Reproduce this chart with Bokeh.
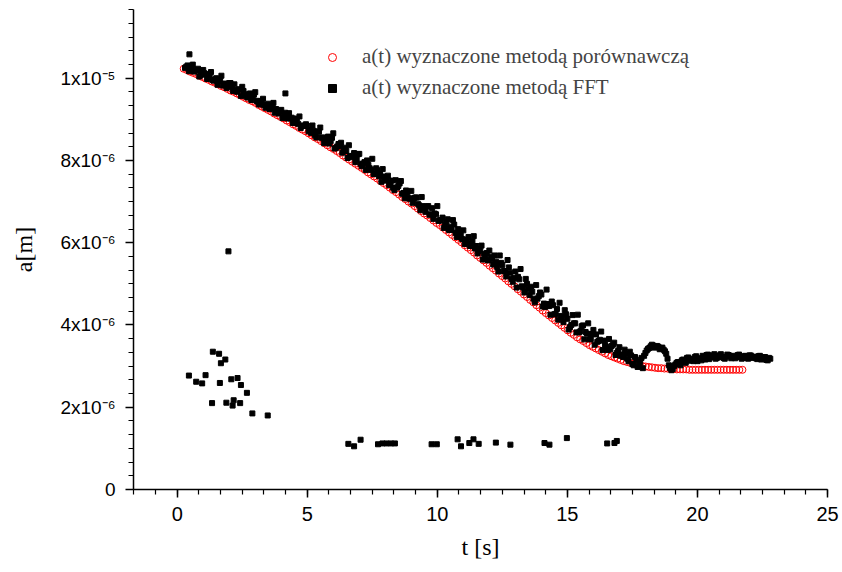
from bokeh.plotting import figure
from bokeh.models import Range1d, FixedTicker, Legend, LegendItem, ColumnDataSource
from bokeh.embed import file_html
from bokeh.resources import INLINE

# a(t) in units of 1e-6 m, t in s
t_cmp = [0.25, 0.37, 0.49, 0.61, 0.73, 0.85, 0.97, 1.09, 1.21, 1.33, 1.45, 1.57, 1.69, 1.81, 1.93,
         2.05, 2.17, 2.29, 2.41, 2.53, 2.65, 2.77, 2.89, 3.01, 3.13, 3.25, 3.37, 3.49, 3.61, 3.73,
         3.85, 3.97, 4.09, 4.21, 4.33, 4.45, 4.57, 4.69, 4.81, 4.93, 5.05, 5.17, 5.29, 5.41, 5.53,
         5.65, 5.77, 5.89, 6.01, 6.13, 6.25, 6.37, 6.49, 6.61, 6.73, 6.85, 6.97, 7.09, 7.21, 7.33,
         7.45, 7.57, 7.69, 7.81, 7.93, 8.05, 8.17, 8.29, 8.41, 8.53, 8.65, 8.77, 8.89, 9.01, 9.13,
         9.25, 9.37, 9.49, 9.61, 9.73, 9.85, 9.97, 10.09, 10.21, 10.33, 10.45, 10.57, 10.69, 10.81, 10.93,
         11.05, 11.17, 11.29, 11.41, 11.53, 11.65, 11.77, 11.89, 12.01, 12.13, 12.25, 12.37, 12.49, 12.61, 12.73,
         12.85, 12.97, 13.09, 13.21, 13.33, 13.45, 13.57, 13.69, 13.81, 13.93, 14.05, 14.17, 14.29, 14.41, 14.53,
         14.65, 14.77, 14.89, 15.01, 15.13, 15.25, 15.37, 15.49, 15.61, 15.73, 15.85, 15.97, 16.09, 16.21, 16.33,
         16.45, 16.57, 16.69, 16.81, 16.93, 17.05, 17.17, 17.29, 17.41, 17.53, 17.65, 17.77, 17.89, 18.01, 18.13,
         18.25, 18.37, 18.49, 18.61, 18.73, 18.85, 18.97, 19.09, 19.21, 19.33, 19.45, 19.57, 19.69, 19.81, 19.93,
         20.05, 20.17, 20.29, 20.41, 20.53, 20.65, 20.77, 20.89, 21.01, 21.13, 21.25, 21.37, 21.49, 21.61, 21.73]
a_cmp = [10.23, 10.20, 10.16, 10.13, 10.10, 10.06, 10.03, 9.99, 9.96, 9.92, 9.89, 9.85, 9.81, 9.78, 9.74,
         9.70, 9.67, 9.63, 9.59, 9.55, 9.51, 9.47, 9.44, 9.40, 9.35, 9.31, 9.27, 9.23, 9.19, 9.14,
         9.10, 9.06, 9.02, 8.97, 8.93, 8.88, 8.84, 8.79, 8.75, 8.71, 8.66, 8.61, 8.56, 8.52, 8.47,
         8.42, 8.37, 8.32, 8.28, 8.23, 8.18, 8.12, 8.07, 8.02, 7.97, 7.92, 7.87, 7.82, 7.77, 7.71,
         7.66, 7.61, 7.56, 7.50, 7.45, 7.40, 7.34, 7.28, 7.23, 7.17, 7.11, 7.06, 7.00, 6.95, 6.89,
         6.83, 6.77, 6.71, 6.66, 6.60, 6.54, 6.48, 6.43, 6.37, 6.31, 6.25, 6.19, 6.13, 6.07, 6.01,
         5.94, 5.88, 5.82, 5.76, 5.69, 5.63, 5.57, 5.51, 5.44, 5.38, 5.32, 5.25, 5.19, 5.13, 5.06,
         5.00, 4.94, 4.87, 4.81, 4.74, 4.68, 4.61, 4.55, 4.48, 4.42, 4.35, 4.29, 4.23, 4.17, 4.11,
         4.05, 3.99, 3.93, 3.87, 3.81, 3.76, 3.70, 3.65, 3.61, 3.56, 3.51, 3.47, 3.43, 3.39, 3.35,
         3.31, 3.27, 3.24, 3.21, 3.18, 3.15, 3.12, 3.10, 3.08, 3.06, 3.04, 3.02, 3.00, 2.99, 2.98,
         2.97, 2.96, 2.95, 2.95, 2.94, 2.94, 2.93, 2.93, 2.92, 2.92, 2.92, 2.92, 2.91, 2.91, 2.91,
         2.91, 2.91, 2.91, 2.91, 2.91, 2.91, 2.91, 2.91, 2.91, 2.91, 2.91, 2.91, 2.91, 2.91, 2.91]

# FFT method, first set of readings
t_fft = [0.3, 0.4, 0.5, 0.6, 0.7, 0.8, 0.9, 1.0, 1.1, 1.2, 1.3, 1.4, 1.5, 1.6, 1.7, 1.8, 1.9, 2.0,
         2.1, 2.2, 2.3, 2.4, 2.5, 2.6, 2.7, 2.8, 2.9, 3.0, 3.1, 3.2, 3.3, 3.4, 3.5, 3.6, 3.7, 3.8,
         3.9, 4.0, 4.1, 4.2, 4.3, 4.4, 4.5, 4.6, 4.7, 4.8, 4.9, 5.0, 5.1, 5.2, 5.3, 5.4, 5.5, 5.6,
         5.7, 5.8, 5.9, 6.0, 6.1, 6.2, 6.3, 6.4, 6.5, 6.6, 6.7, 6.8, 6.9, 7.0, 7.1, 7.2, 7.3, 7.4,
         7.5, 7.6, 7.7, 7.8, 7.9, 8.0, 8.1, 8.2, 8.3, 8.4, 8.5, 8.6, 8.7, 8.8, 8.9, 9.0, 9.1, 9.2,
         9.3, 9.4, 9.5, 9.6, 9.7, 9.8, 9.9, 10.0, 10.1, 10.2, 10.3, 10.4, 10.5, 10.6, 10.7, 10.8, 10.9, 11.0,
         11.1, 11.2, 11.3, 11.4, 11.5, 11.6, 11.7, 11.8, 11.9, 12.0, 12.1, 12.2, 12.3, 12.4, 12.5, 12.6, 12.7, 12.8,
         12.9, 13.0, 13.1, 13.2, 13.3, 13.4, 13.5, 13.6, 13.7, 13.8, 13.9, 14.0, 14.1, 14.2, 14.3, 14.4, 14.5, 14.6,
         14.7, 14.8, 14.9, 15.0, 15.1, 15.2, 15.3, 15.4, 15.5, 15.6, 15.7, 15.8, 15.9, 16.0, 16.1, 16.2, 16.3, 16.4,
         16.5, 16.6, 16.7, 16.8, 16.9, 17.0, 17.1, 17.2, 17.3, 17.4, 17.5, 17.6, 17.7, 17.8, 17.9, 18.0, 18.1, 18.2,
         18.3, 18.4, 18.5, 18.6, 18.7, 18.8, 18.9, 19.0, 19.1, 19.2, 19.3, 19.4, 19.5, 19.6, 19.7, 19.8, 19.9, 20.0,
         20.1, 20.2, 20.3, 20.4, 20.5, 20.6, 20.7, 20.8, 20.9, 21.0, 21.1, 21.2, 21.3, 21.4, 21.5, 21.6, 21.7, 21.8,
         21.9, 22.0, 22.1, 22.2, 22.3, 22.4, 22.5, 22.6, 22.7, 22.8]
a_fft = [10.25, 10.31, 10.21, 10.33, 10.19, 10.23, 10.07, 10.20, 10.09, 10.02, 10.15, 9.94, 10.00, 9.93, 10.06, 9.85,
         9.76, 9.88, 9.80, 9.85, 9.67, 9.73, 9.79, 9.61, 9.53, 9.63, 9.55, 9.66, 9.43, 9.43, 9.50, 9.28,
         9.38, 9.28, 9.40, 9.25, 9.14, 9.23, 9.12, 9.05, 9.15, 9.04, 8.91, 9.02, 9.07, 8.84, 8.84, 8.84,
         8.74, 8.85, 8.61, 8.70, 8.80, 8.56, 8.48, 8.58, 8.47, 8.66, 8.30, 8.40, 8.43, 8.22, 8.23, 8.37,
         8.08, 8.18, 8.04, 8.16, 7.86, 7.96, 8.00, 7.81, 8.04, 7.68, 7.76, 7.68, 7.79, 7.52, 7.63, 7.46,
         7.34, 7.52, 7.38, 7.50, 7.21, 7.27, 7.08, 7.26, 7.08, 7.10, 6.91, 7.11, 6.86, 6.88, 6.68, 6.84,
         6.71, 6.89, 6.55, 6.61, 6.41, 6.57, 6.39, 6.55, 6.24, 6.33, 6.22, 6.30, 6.02, 6.14, 5.96, 6.16,
         5.92, 5.80, 5.93, 5.73, 5.75, 5.81,
         5.60, 5.69, 5.41, 5.69, 5.46, 5.31, 5.58, 5.27, 5.05, 5.30, 5.17, 5.36, 4.91, 5.12, 4.87, 4.93,
         4.64, 4.97, 4.70, 4.74, 4.52, 4.86, 4.46, 4.57, 4.26, 4.39, 4.54, 4.18, 4.36, 4.15, 3.95, 4.24,
         4.04, 4.25, 3.85, 3.99, 3.83, 4.04, 3.66, 3.88, 3.77, 3.61, 3.84, 3.62, 3.47, 3.66, 3.49, 3.57,
         3.32, 3.46,
         3.28, 3.40, 3.18, 3.35, 3.05, 3.22, 2.98, 3.10, 2.95, 3.32, 3.42, 3.48, 3.50, 3.46, 3.47, 3.43,
         3.40, 3.30, 3.02, 2.90,
         3.00, 3.08, 3.05, 3.14, 3.10, 3.20, 3.13, 3.17, 3.22, 3.12, 3.19, 3.25, 3.16, 3.28, 3.21, 3.26,
         3.18, 3.24, 3.29, 3.20, 3.23, 3.27, 3.19, 3.25, 3.22, 3.28, 3.18, 3.24, 3.21, 3.26, 3.20, 3.23,
         3.17, 3.25, 3.19, 3.22, 3.14, 3.18]

# FFT method, interleaved readings
t_fft2 = [0.35, 0.45, 0.55, 0.65, 0.75, 0.85, 0.95, 1.05, 1.15, 1.25, 1.35, 1.45, 1.55, 1.65, 1.75, 1.85,
          1.95, 2.05, 2.15, 2.25, 2.35, 2.45, 2.55, 2.65, 2.75, 2.85, 2.95, 3.05, 3.15, 3.25, 3.35, 3.45,
          3.55, 3.65, 3.75, 3.85, 3.95, 4.05, 4.15, 4.25, 4.35, 4.45, 4.55, 4.65, 4.75, 4.85, 4.95, 5.05,
          5.15, 5.25, 5.35, 5.45, 5.55, 5.65, 5.75, 5.85, 5.95, 6.05, 6.15, 6.25, 6.35, 6.45, 6.55, 6.65,
          6.75, 6.85, 6.95, 7.05, 7.15, 7.25, 7.35, 7.45, 7.55, 7.65, 7.75, 7.85, 7.95, 8.05, 8.15, 8.25,
          8.35, 8.45, 8.55, 8.65, 8.75, 8.85, 8.95, 9.05, 9.15, 9.25, 9.35, 9.45, 9.55, 9.65, 9.75, 9.85,
          9.95, 10.05, 10.15, 10.25, 10.35, 10.45, 10.55, 10.65, 10.75, 10.85, 10.95, 11.05, 11.15, 11.25,
          11.35, 11.45, 11.55, 11.65, 11.75, 11.85, 11.95, 12.05,
          12.15, 12.25, 12.35, 12.45, 12.55, 12.65, 12.75, 12.85, 12.95, 13.05, 13.15, 13.25, 13.35, 13.45,
          13.55, 13.65, 13.75, 13.85, 13.95, 14.05, 14.15, 14.25, 14.35, 14.45, 14.55, 14.65, 14.75, 14.85,
          14.95, 15.05, 15.15, 15.25, 15.35, 15.45, 15.55, 15.65, 15.75, 15.85, 15.95, 16.05, 16.15, 16.25,
          16.35, 16.45, 16.55, 16.65, 16.75, 16.85, 16.95, 17.05,
          17.15, 17.25, 17.35, 17.45, 17.55, 17.65, 17.75, 17.85, 17.95, 18.05, 18.15, 18.25, 18.35, 18.45,
          18.55, 18.65, 18.75, 18.85, 18.95, 19.05,
          19.15, 19.25, 19.35, 19.45, 19.55, 19.65, 19.75, 19.85, 19.95, 20.05, 20.15, 20.25, 20.35, 20.45,
          20.55, 20.65, 20.75, 20.85, 20.95, 21.05, 21.15, 21.25, 21.35, 21.45, 21.55, 21.65, 21.75, 21.85,
          21.95, 22.05, 22.15, 22.25, 22.35, 22.45, 22.55, 22.65, 22.75]
a_fft2 = [10.28, 10.17, 10.28, 10.16, 10.19, 10.04, 10.10, 10.12, 9.98, 10.10, 9.96, 9.97, 9.84, 9.95, 9.82, 9.87,
          9.79, 9.88, 9.69, 9.72, 9.72, 9.57, 9.69, 9.56, 9.58, 9.47, 9.60, 9.45, 9.36, 9.45, 9.34, 9.35,
          9.25, 9.33, 9.16, 9.19, 9.20, 9.03, 9.16, 9.02, 9.02, 8.91, 9.00, 8.89, 8.79, 8.85, 8.88, 8.71,
          8.67, 8.72, 8.56, 8.70, 8.55, 8.42, 8.54, 8.41, 8.55, 8.29, 8.34, 8.35, 8.19, 8.31, 8.06, 8.11,
          8.11, 7.96, 8.15, 7.92, 7.92, 7.77, 7.89, 7.77, 7.67, 7.81, 7.62, 7.48, 7.61, 7.51, 7.40, 7.51,
          7.28, 7.34, 7.44, 7.19, 7.08, 7.20, 7.07, 6.97, 7.10, 6.95, 6.79, 6.89, 6.75, 6.89, 6.69, 6.58,
          6.69, 6.53, 6.54, 6.36, 6.51, 6.31, 6.31, 6.44, 6.14, 6.21, 6.09, 5.97, 6.08, 5.92,
          6.03, 5.86, 5.74, 5.84, 5.59, 5.68, 5.57, 5.66,
          5.47, 5.54, 5.30, 5.51, 5.31, 5.18, 5.40, 5.12, 5.14, 4.91, 5.11, 4.94, 4.79, 5.00,
          4.73, 4.81, 4.55, 4.64, 4.79, 4.45, 4.44, 4.51, 4.25, 4.48, 4.27, 4.13, 4.22, 4.07,
          4.26, 3.89, 4.00, 4.04, 3.82, 3.82, 3.97, 3.65, 3.79, 3.65, 3.78, 3.52, 3.59, 3.64,
          3.39, 3.52, 3.39, 3.41, 3.52, 3.27, 3.37, 3.25,
          3.22, 3.30, 3.12, 3.26, 3.02, 3.15, 3.00, 3.20, 3.25, 3.38, 3.44, 3.52, 3.45, 3.49,
          3.41, 3.45, 3.36, 3.18, 2.95, 2.93,
          3.04, 3.10, 3.02, 3.16, 3.08, 3.21, 3.15, 3.12, 3.24, 3.18, 3.14, 3.22, 3.27, 3.17,
          3.23, 3.29, 3.20, 3.26, 3.22, 3.18, 3.28, 3.24, 3.21, 3.19, 3.27, 3.23, 3.20, 3.25,
          3.18, 3.26, 3.22, 3.19, 3.24, 3.16, 3.21, 3.15, 3.20]

# outlying FFT points
t_out = [0.47, 4.16, 1.97, 1.37, 1.61, 1.85, 1.68, 0.45, 1.09, 0.73, 0.96, 1.64, 2.08, 2.32, 2.45, 2.68,
         1.34, 1.89, 2.17, 2.13, 2.42, 2.89, 3.48,
         6.58, 6.80, 7.05, 7.72, 7.89, 8.05, 8.22, 8.37, 9.78, 9.98, 10.78, 10.91, 11.23, 11.39, 11.59,
         12.25, 12.81, 14.12, 14.31, 14.98, 16.53, 16.81, 16.90]
a_out = [10.58, 9.63, 5.79, 3.35, 3.30, 3.16, 3.07, 2.77, 2.78, 2.62, 2.58, 2.59, 2.68, 2.71, 2.54, 2.35,
         2.10, 2.11, 2.17, 2.04, 2.10, 1.85, 1.80,
         1.11, 1.05, 1.21, 1.10, 1.12, 1.12, 1.12, 1.12, 1.10, 1.10, 1.22, 1.05, 1.13, 1.22, 1.11,
         1.14, 1.09, 1.13, 1.09, 1.25, 1.12, 1.13, 1.18]

y_ticks = [0, 2, 4, 6, 8, 10]
y_tick_labels = ["0", "2x10⁻⁶", "4x10⁻⁶", "6x10⁻⁶", "8x10⁻⁶", "1x10⁻⁵"]
x_ticks = [0, 5, 10, 15, 20, 25]

n1 = min(len(t_fft), len(a_fft))
n2 = min(len(t_fft2), len(a_fft2))
src_cmp = ColumnDataSource(dict(t=t_cmp, a=a_cmp))
src_fft = ColumnDataSource(dict(t=t_fft[:n1] + t_fft2[:n2] + t_out,
                                a=a_fft[:n1] + a_fft2[:n2] + a_out))

p = figure(width=842, height=572, output_backend="svg", toolbar_location=None,
           x_range=Range1d(-1.68, 25), y_range=Range1d(0, 11.67),
           min_border_left=133, min_border_right=15, min_border_top=9, min_border_bottom=83)
p.outline_line_color = None
p.grid.visible = False
p.background_fill_color = "white"
p.border_fill_color = "white"

r_cmp = p.scatter("t", "a", source=src_cmp, marker="circle", size=7, fill_alpha=0,
                  line_color="#ff0000", line_width=1)
r_fft = p.scatter("t", "a", source=src_fft, marker="square", size=5, fill_color="black",
                  line_color="black")

minor_x = [i * 5 / 6 for i in range(-2, 31)]
minor_y = [i / 3 for i in range(0, 36)]
p.xaxis.ticker = FixedTicker(ticks=x_ticks, minor_ticks=minor_x)
p.yaxis.ticker = FixedTicker(ticks=y_ticks, minor_ticks=minor_y)
p.yaxis.major_label_overrides = {k: v for k, v in zip(y_ticks, y_tick_labels)}

for ax in (p.xaxis[0], p.yaxis[0]):
    ax.axis_line_color = "black"
    ax.axis_line_width = 1.5
    ax.major_tick_line_color = "black"
    ax.minor_tick_line_color = "black"
    ax.major_tick_line_width = 1.5
    ax.minor_tick_line_width = 1.2
    ax.major_tick_out = 8
    ax.major_tick_in = 0
    ax.minor_tick_out = 5
    ax.minor_tick_in = 0
    ax.major_label_text_font = "Liberation Sans"
    ax.major_label_text_color = "black"
    ax.axis_label_text_font = "Liberation Serif"
    ax.axis_label_text_font_size = "24px"
    ax.axis_label_text_font_style = "normal"
    ax.axis_label_text_color = "black"

p.xaxis.major_label_text_font_size = "20px"
p.yaxis.major_label_text_font_size = "19px"
p.xaxis.major_label_standoff = 9
p.yaxis.major_label_standoff = 10
p.xaxis.axis_label = "t [s]"
p.yaxis.axis_label = "a[m]"
p.xaxis.axis_label_standoff = 10
p.yaxis.axis_label_standoff = 20

legend = Legend(items=[LegendItem(label="a(t) wyznaczone metodą porównawczą", renderers=[r_cmp]),
                       LegendItem(label="a(t) wyznaczone metodą FFT", renderers=[r_fft])],
                location=(189, 389), border_line_alpha=0, background_fill_alpha=0,
                label_text_font="Liberation Serif", label_text_font_size="21px",
                glyph_width=20, glyph_height=20, label_height=20, label_standoff=20,
                padding=0, margin=0, spacing=6)
p.add_layout(legend)

open("out.html", "w").write(file_html(p, INLINE))
